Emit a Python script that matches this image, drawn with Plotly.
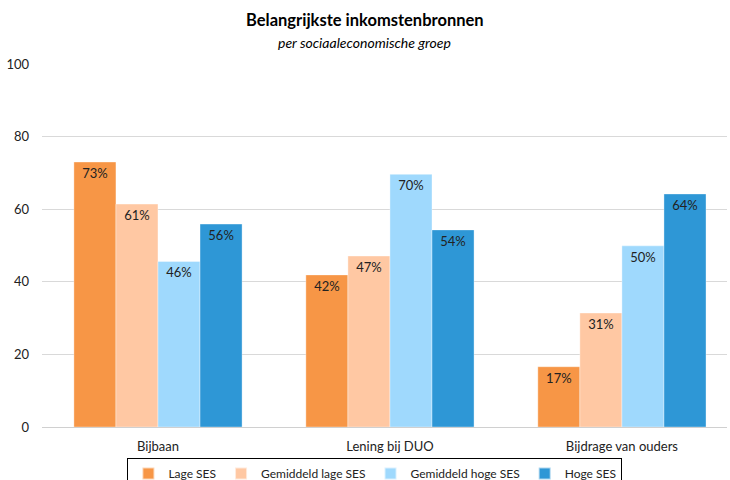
import plotly.graph_objects as go

categories = ["Bijbaan", "Lening bij DUO", "Bijdrage van ouders"]
series_names = ["Lage SES", "Gemiddeld lage SES", "Gemiddeld hoge SES", "Hoge SES"]
lage = [73.0, 41.9, 16.6]
gem_lage = [61.4, 47.1, 31.4]
gem_hoge = [45.6, 69.6, 49.9]
hoge = [55.9, 54.3, 64.2]
y_ticks = [0, 20, 40, 60, 80, 100]

colors = ["#F79646", "#FFC8A3", "#9FD9FD", "#2E97D6"]
values = [lage, gem_lage, gem_hoge, hoge]

FONT = "Lato, 'Open Sans', sans-serif"

fig = go.Figure()
for name, vals, col in zip(series_names, values, colors):
    fig.add_trace(go.Bar(
        name=name, x=categories, y=vals,
        marker=dict(color=col, line=dict(color="rgba(255,255,255,0.6)", width=0.6)),
        text=vals, texttemplate="%{y:.0f}%", textposition="inside",
        insidetextanchor="end", textangle=0,
        textfont=dict(family=FONT, size=13, color="#222222"),
        hoverinfo="skip",
    ))

fig.update_layout(
    width=730, height=480,
    barmode="group", bargap=0.275, bargroupgap=0,
    paper_bgcolor="white", plot_bgcolor="white",
    margin=dict(l=42, r=3, t=64, b=53),
    font=dict(family=FONT, size=12, color="#222222"),
    showlegend=True,
    legend=dict(
        orientation="h", xref="paper", yref="container",
        x=0.486, xanchor="center", y=0.046, yanchor="top",
        bordercolor="#000000", borderwidth=1,
        font=dict(family=FONT, size=12, color="#222222"),
        itemsizing="constant", traceorder="normal",
    ),
    annotations=[
        dict(text="<b>Belangrijkste inkomstenbronnen</b>", xref="paper", yref="paper",
             x=0.4715, y=1, yshift=56, showarrow=False,
             font=dict(family=FONT, size=16.5, color="#000000")),
        dict(text="<i>per sociaaleconomische groep</i>", xref="paper", yref="paper",
             x=0.4715, y=1, yshift=32, showarrow=False,
             font=dict(family=FONT, size=14, color="#000000")),
    ],
)
fig.update_xaxes(showgrid=False, showline=False, ticks="", automargin=False,
                 range=[-0.5, 2.453],
                 ticklabelstandoff=10,
                 tickfont=dict(family=FONT, size=13, color="#222222"))
fig.update_yaxes(range=[0, 100], tickvals=y_ticks, showgrid=True, automargin=False,
                 gridcolor="#D9D9D9", gridwidth=1, zeroline=True,
                 zerolinecolor="#D0D0D0", zerolinewidth=1, ticks="",
                 ticklabelstandoff=12,
                 tickfont=dict(family=FONT, size=13, color="#222222"))

fig.write_html("out.html", config={"displayModeBar": False},
               post_script="document.body.style.margin='0px';")
